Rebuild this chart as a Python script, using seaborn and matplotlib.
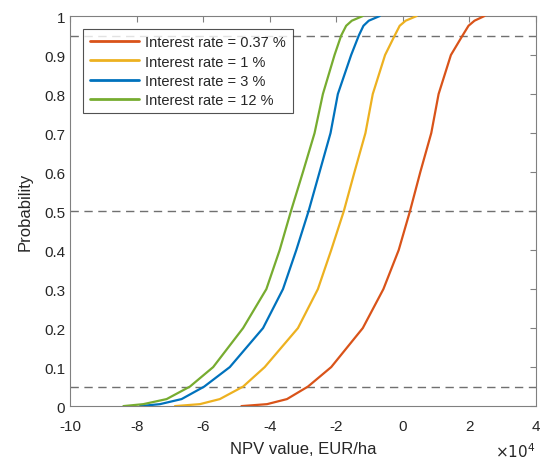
import pandas as pd
import matplotlib
matplotlib.use('Agg')
import matplotlib.pyplot as plt
from matplotlib.ticker import FuncFormatter
import seaborn as sns

# probability levels of the empirical CDFs
prob = [0, 0.005, 0.018, 0.05, 0.1, 0.2, 0.3, 0.4, 0.5, 0.6, 0.7, 0.8, 0.9, 0.95, 0.975, 0.988, 1.0]

# NPV value (EUR/ha) reached at each probability level
npv_037 = [-48500, -40800, -34800, -28500, -21500, -12000, -5800, -1200, 2200, 5300,
           8600, 10800, 14500, 18000, 19800, 21600, 24600]
npv_1 = [-68500, -61000, -55000, -48000, -41500, -31500, -25500, -21500, -17700, -14500,
         -11200, -9000, -5300, -2400, -900, 900, 4200]
npv_3 = [-79000, -73000, -66500, -59700, -52000, -42000, -36000, -32000, -28300, -25000,
         -21700, -19500, -15500, -13200, -11800, -10200, -6900]
npv_12 = [-84000, -78000, -71000, -64000, -57000, -48000, -41000, -37000, -33600, -30000,
          -26500, -24000, -20500, -18500, -17000, -15300, -12000]

labels = ['Interest rate = 0.37 %', 'Interest rate = 1 %', 'Interest rate = 3 %', 'Interest rate = 12 %']
colors = ['#D95319', '#EDB120', '#0072BD', '#77AC30']

rows = []
for lab, vals in zip(labels, [npv_037, npv_1, npv_3, npv_12]):
    for v, p in zip(vals, prob):
        rows.append({'npv': v, 'prob': p, 'rate': lab})
df = pd.DataFrame(rows)

sns.set_style('white')
plt.rcParams['font.family'] = ['Liberation Sans', 'DejaVu Sans']
plt.rcParams['axes.unicode_minus'] = False

fig = plt.figure(figsize=(5.4, 4.6), dpi=100)
ax = fig.add_axes([0.13, 0.115, 0.862, 0.848])

# reference levels
for yv in [0.05, 0.5, 0.95]:
    ax.axhline(yv, color='#707070', linestyle=(0, (6, 4)), linewidth=1.0, zorder=1)

sns.lineplot(data=df, x='npv', y='prob', hue='rate', palette=dict(zip(labels, colors)),
             estimator=None, sort=False, linewidth=1.6, ax=ax, zorder=3)

ax.set_xlim(-100000, 40000)
ax.set_ylim(0, 1)
ax.set_xticks(range(-100000, 40001, 20000))
ax.set_yticks([i / 10 for i in range(11)])
ax.yaxis.set_major_formatter(FuncFormatter(lambda v, pos: '%g' % round(v, 2)))
ax.xaxis.set_major_formatter(FuncFormatter(lambda v, pos: '%g' % (v / 1e4)))
ax.text(1.0, -0.113, r'$\times10^{4}$', transform=ax.transAxes, ha='right', va='center',
        fontsize=11, color='#262626')

ax.tick_params(direction='in', top=True, right=True, length=4, width=0.8,
               colors='#808080', labelcolor='#262626', labelsize=11)
ax.tick_params(axis='x', pad=9)
for s in ax.spines.values():
    s.set_color('#808080')
    s.set_linewidth(0.8)

ax.set_xlabel('NPV value, EUR/ha', fontsize=12, color='#262626', labelpad=6)
ax.set_ylabel('Probability', fontsize=12, color='#262626', labelpad=8)

leg = ax.legend(loc='upper left', bbox_to_anchor=(0.028, 0.967), borderaxespad=0,
                fontsize=10.5, frameon=True, fancybox=False, edgecolor='#262626',
                handlelength=3.4, borderpad=0.45, labelspacing=0.35, handletextpad=0.4)
leg.get_frame().set_linewidth(0.8)
for line in leg.get_lines():
    line.set_linewidth(2)

fig.savefig('out.png', dpi=100, facecolor='white')
